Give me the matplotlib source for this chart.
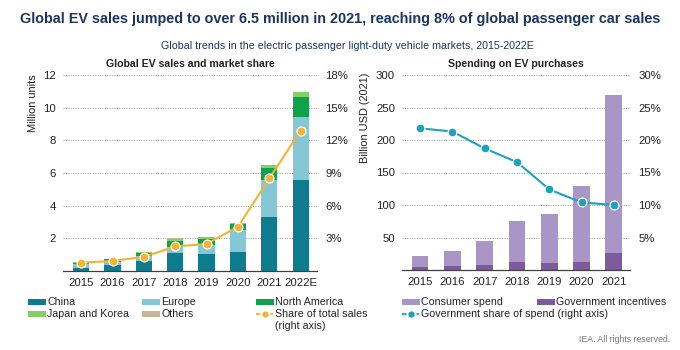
import matplotlib
matplotlib.use("Agg")
import matplotlib.pyplot as plt
import numpy as np
from matplotlib.patches import Rectangle
from matplotlib.lines import Line2D

plt.rcParams['font.family'] = ['Liberation Sans', 'DejaVu Sans']

# ---- data ----
years_sales = ["2015", "2016", "2017", "2018", "2019", "2020", "2021", "2022E"]
china = [0.21, 0.34, 0.60, 1.10, 1.06, 1.16, 3.30, 5.60]
europe = [0.19, 0.22, 0.30, 0.40, 0.56, 1.38, 2.30, 3.80]
north_america = [0.11, 0.16, 0.20, 0.36, 0.33, 0.33, 0.70, 1.25]
japan_korea = [0.05, 0.03, 0.08, 0.12, 0.12, 0.07, 0.16, 0.28]
others = [0.01, 0.01, 0.01, 0.02, 0.02, 0.02, 0.05, 0.05]
share_sales = [0.77, 0.92, 1.3, 2.26, 2.48, 4.07, 8.5, 12.9]

years_spend = ["2015", "2016", "2017", "2018", "2019", "2020", "2021"]
gov_incentives = [4.0, 5.6, 7.7, 11.8, 10.2, 12.8, 26.0]
consumer_spend = [17.5, 24.1, 36.8, 64.2, 76.3, 115.7, 243.0]
gov_share = [21.8, 21.3, 18.7, 16.6, 12.4, 10.4, 10.0]

sales_ticks = [2, 4, 6, 8, 10, 12]
sales_share_ticks = [3, 6, 9, 12, 15, 18]
spend_ticks = [50, 100, 150, 200, 250, 300]
spend_share_ticks = [5, 10, 15, 20, 25, 30]

# ---- styles ----
C_CHINA = "#0f7b8e"
C_EUROPE = "#86c7d6"
C_NA = "#0ea24c"
C_JK = "#86cf62"
C_OTH = "#c4b89c"
C_SHARE = "#f5b335"
C_CONS = "#a995c6"
C_GOV = "#7c5a9c"
C_GSHARE = "#1ba2bd"
NAVY = "#1b3560"
TXT = "#222222"
GRID = "#a0a0a0"

W, H = 680, 350
fig = plt.figure(figsize=(W / 100, H / 100), dpi=100)


def frac_box(x0, y_top, x1, y_bot):
    return [x0 / W, 1 - y_bot / H, (x1 - x0) / W, (y_bot - y_top) / H]


fs = 8.2
lfs = 7.7

fig.text(340 / W, 1 - 19 / H, "Global EV sales jumped to over 6.5 million in 2021, reaching 8% of global passenger car sales",
         ha="center", va="center", fontsize=10.4, fontweight="bold", color=NAVY)
fig.text(347 / W, 1 - 46 / H, "Global trends in the electric passenger light-duty vehicle markets, 2015-2022E",
         ha="center", va="center", fontsize=7.7, color=NAVY)


def style_axes(ax, ticks, rticks, rfmt, ylim, rlim):
    ax.set_ylim(*ylim)
    ax.set_yticks(ticks)
    ax.set_yticklabels([str(t) for t in ticks], fontsize=fs, color=TXT)
    ax.grid(axis="y", linestyle=(0, (1, 1.5)), color=GRID, linewidth=0.7)
    ax.set_axisbelow(True)
    for s in ["top", "right", "left"]:
        ax.spines[s].set_visible(False)
    ax.spines["bottom"].set_color("#404040")
    ax.spines["bottom"].set_linewidth(0.9)
    ax.tick_params(length=0, pad=5)
    ax2 = ax.twinx()
    ax2.set_ylim(*rlim)
    ax2.set_yticks(rticks)
    ax2.set_yticklabels([rfmt(t) for t in rticks], fontsize=fs, color=TXT)
    ax2.tick_params(length=0, pad=6)
    for s in ax2.spines.values():
        s.set_visible(False)
    return ax2


# ---- left chart ----
ax1 = fig.add_axes(frac_box(63, 75, 317, 271))
x1 = np.arange(len(years_sales))
bw = 0.52
bottom = np.zeros(len(years_sales))
for vals, col in [(china, C_CHINA), (europe, C_EUROPE), (north_america, C_NA), (japan_korea, C_JK), (others, C_OTH)]:
    ax1.bar(x1, vals, bw, bottom=bottom, color=col, zorder=2)
    bottom += np.array(vals)
ax1.set_xlim(-0.58, 7.52)
ax1.set_xticks(x1)
ax1.set_xticklabels(years_sales, fontsize=fs, color=TXT)
ax1r = style_axes(ax1, sales_ticks, sales_share_ticks, lambda t: f"{t}%", (0, 12), (0, 18))
ax1r.plot(x1, share_sales, color=C_SHARE, linewidth=1.5, marker="o", markersize=6.4,
          markerfacecolor=C_SHARE, markeredgecolor="white", markeredgewidth=0.9, zorder=3)
ax1.set_title("Global EV sales and market share", fontsize=7.6, fontweight="bold", color=TXT, pad=6)
fig.text(33 / W, 1 - 103 / H, "Million units", rotation=90, ha="center", va="center", fontsize=7.9, color=TXT)

# ---- right chart ----
ax2 = fig.add_axes(frac_box(402, 75, 630, 270))
x2 = np.arange(len(years_spend))
ax2.bar(x2, gov_incentives, bw, color=C_GOV, zorder=2)
ax2.bar(x2, consumer_spend, bw, bottom=gov_incentives, color=C_CONS, zorder=2)
ax2.set_xlim(-0.56, 6.5)
ax2.set_xticks(x2)
ax2.set_xticklabels(years_spend, fontsize=fs, color=TXT)
ax2r = style_axes(ax2, spend_ticks, spend_share_ticks, lambda t: f"{t}%", (0, 300), (0, 30))
ax2r.plot(x2, gov_share, color=C_GSHARE, linewidth=1.5, marker="o", markersize=6.4,
          markerfacecolor=C_GSHARE, markeredgecolor="white", markeredgewidth=0.9, zorder=3)
ax2.set_title("Spending on EV purchases", fontsize=7.6, fontweight="bold", color=TXT, pad=6)
fig.text(365 / W, 1 - 118 / H, "Billion USD (2021)", rotation=90, ha="center", va="center", fontsize=7.9, color=TXT)

# ---- legend (manual, figure coords) ----
def patch_item(x, y, col, label):
    fig.patches.append(Rectangle((x / W, 1 - (y + 3) / H), 18 / W, 6 / H, transform=fig.transFigure,
                                 facecolor=col, edgecolor="none"))
    fig.text((x + 19) / W, 1 - y / H, label, ha="left", va="center", fontsize=lfs, color=TXT)


def line_item(x, y, col, label):
    fig.lines.append(Line2D([x / W, (x + 17) / W], [1 - y / H, 1 - y / H], transform=fig.transFigure,
                            color=col, linewidth=1.3, linestyle=(0, (2.5, 1.5))))
    fig.lines.append(Line2D([(x + 8.5) / W], [1 - y / H], transform=fig.transFigure,
                            color=col, marker="o", markersize=3.5, linestyle="none"))
    fig.text((x + 19) / W, 1 - y / H, label, ha="left", va="center", fontsize=lfs, color=TXT)


patch_item(28, 302, C_CHINA, "China")
patch_item(142, 302, C_EUROPE, "Europe")
patch_item(256, 302, C_NA, "North America")
patch_item(28, 314, C_JK, "Japan and Korea")
patch_item(142, 314, C_OTH, "Others")
line_item(256, 314, C_SHARE, "Share of total sales")
fig.text(275 / W, 1 - 326 / H, "(right axis)", ha="left", va="center", fontsize=lfs, color=TXT)
patch_item(402, 302, C_CONS, "Consumer spend")
patch_item(537, 302, C_GOV, "Government incentives")
line_item(402, 314, C_GSHARE, "Government share of spend (right axis)")

fig.text(670 / W, 1 - 339 / H, "IEA. All rights reserved.", ha="right", va="center", fontsize=6.3, color="#777777")

fig.savefig("out.png", dpi=100)
